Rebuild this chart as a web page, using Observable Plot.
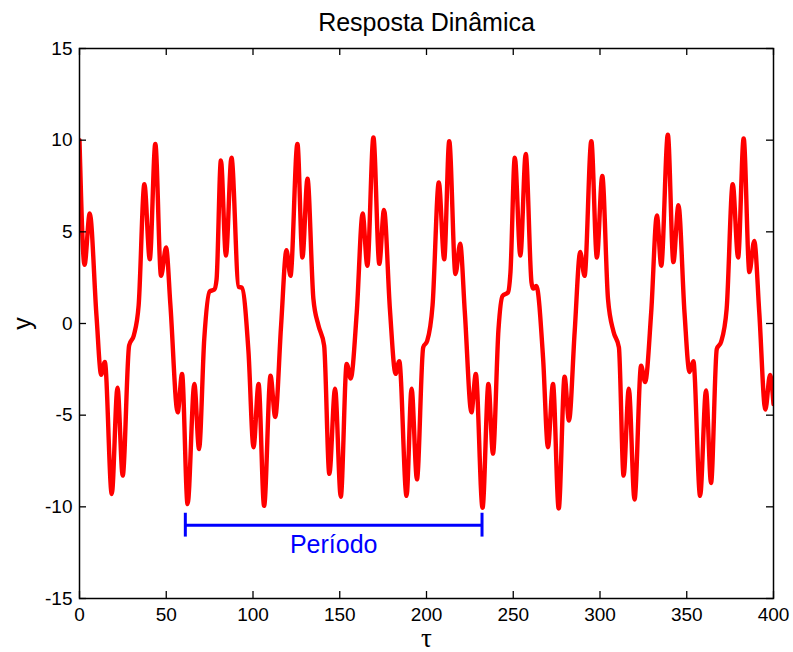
<!DOCTYPE html>
<html>
<head>
<meta charset="utf-8">
<script src="https://cdn.jsdelivr.net/npm/d3@7"></script>
<script src="https://cdn.jsdelivr.net/npm/@observablehq/plot@0.6"></script>
<style>
  body { margin: 0; background: #fff; }
  svg { display: block; }
</style>
</head>
<body>
<div id="chart"></div>
<script>
// Dynamic response y(τ): sampled at its turning points and knees
const tau = [
  0, 2.9, 5.9, 9.8, 12.5, 14.6, 18.6, 21.9, 24.9, 28.6, 31.3, 34.1, 37.4, 40.5, 43.7, 47.0, 49.9,
  52.4, 56.6, 59.1, 62.3, 66.2, 68.9, 71.9, 75.0, 77.7, 79.0, 81.5, 84.4, 87.6, 91.7, 93.6,
  97.4, 100.3, 103.2, 106.4, 110.1, 112.8, 116.2, 119.3, 121.6, 125.6, 128.5, 131.4, 134.8,
  137.7, 141.0, 144.0, 147.3, 150.6, 154.0, 156.3, 159.8, 163.2, 165.9, 169.4, 172.8, 175.5,
  178.9, 182.2, 184.3, 188.5, 191.4, 194.5, 198.1, 200.4, 203.5, 207.1, 210.2, 213.1, 216.7,
  219.4, 222.1, 225.9, 228.4, 232.3, 235.7, 238.3, 241.5, 243.8, 247.0, 248.4, 250.9, 254.1,
  257.2, 260.5, 261.4, 263.3, 267.2, 270.0, 272.9, 276.2, 279.6, 282.1, 285.4, 288.6, 291.1,
  295.0, 298.2, 301.3, 304.6, 307.8, 310.9, 313.6, 316.6, 319.9, 323.7, 326.0, 329.5, 332.8,
  335.3, 339.1, 342.3, 345.2, 348.7, 351.6, 353.8, 357.7, 361.1, 364.0, 367.3, 369.8, 373.0,
  376.5, 379.6, 382.8, 386.1, 388.9, 391.8, 395.3, 398.0, 400
];
const yValues = [
  10.0, 3.2, 6.0, 0.4, -2.8, -2.1, -9.3, -3.5, -8.3, -1.2, -0.65, 1.0, 7.6, 3.5, 9.8, 2.6, 4.15,
  1.0, -4.85, -2.75, -9.85, -3.3, -6.85, -0.85, 1.75, 1.85, 2.4, 8.9, 3.7, 9.05, 2.0, 1.95,
  -1.55, -6.75, -3.3, -9.95, -2.85, -5.1, -0.1, 4.0, 2.6, 9.8, 3.6, 7.9, 1.35,
  -0.1, -1.2, -8.2, -3.55, -9.45, -2.2, -3.0, 0.6, 6.0, 3.15, 10.15, 3.25, 6.2,
  0.8, -2.75, -2.05, -9.4, -3.55, -8.5, -1.3, -0.95, 1.0, 7.7, 3.5, 9.95, 2.7,
  4.35, 0.6, -4.85, -2.75, -10.05, -3.3, -7.1, -0.3, 1.5, 1.7, 2.8, 9.05, 3.7,
  9.25, 2.25, 1.9, 2.05, -1.9, -6.75, -3.3, -10.1, -2.9, -5.3, -0.45, 3.9, 2.6,
  9.95, 3.6, 8.05, 1.35, -0.45, -1.3, -8.3, -3.55, -9.6, -2.3, -3.2, 0.6, 5.9,
  3.15, 10.3, 3.35, 6.45, 0.6, -2.65, -2.05, -9.4, -3.65, -8.7, -1.4, -1.0, 0.8,
  7.6, 3.6, 10.1, 2.8, 4.5, 0.6, -4.7, -2.8, -4.4
];

const xTicks = [0, 50, 100, 150, 200, 250, 300, 350, 400];
const yTicks = [-15, -10, -5, 0, 5, 10, 15];

// One period of the response, marked with a bracket
const periodStart = 61;
const periodEnd = 232;
const periodLevel = -11.0;
const periodLabel = "Período";

const titleText = "Resposta Dinâmica";
const xLabel = "τ";
const yLabel = "y";

const W = 793, H = 652;
const mL = 79, mR = 20, mT = 48, mB = 54;
const innerW = W - mL - mR, innerH = H - mT - mB;
const tickLen = 7;

const points = tau.map((t, i) => ({t, v: yValues[i]}));

const chart = Plot.plot({
  width: W,
  height: H,
  marginLeft: mL,
  marginRight: mR,
  marginTop: mT,
  marginBottom: mB,
  style: {fontFamily: "'Liberation Sans', Arial, Helvetica, sans-serif", fontSize: "19px", color: "black", background: "white"},
  x: {domain: [0, 400]},
  y: {domain: [-15, 15]},
  marks: [
    Plot.line(points, {x: "t", y: "v", stroke: "#ff0000", strokeWidth: 4.4, curve: "monotone-x", clip: true}),
    Plot.ruleY([periodLevel], {x1: periodStart, x2: periodEnd, stroke: "#0000ff", strokeWidth: 3}),
    Plot.ruleX([periodStart, periodEnd], {x: d => d, y1: periodLevel - 0.65, y2: periodLevel + 0.65, stroke: "#0000ff", strokeWidth: 3}),
    Plot.text([periodLabel], {x: (periodStart + periodEnd) / 2, y: periodLevel - 1.1, fill: "#0000ff", fontSize: 25, lineAnchor: "middle"}),
    // inward ticks on all four sides
    Plot.tickX(xTicks, {x: d => d, insetTop: innerH - tickLen, stroke: "black", strokeWidth: 1.3}),
    Plot.tickX(xTicks, {x: d => d, insetBottom: innerH - tickLen, stroke: "black", strokeWidth: 1.3}),
    Plot.tickY(yTicks, {y: d => d, insetRight: innerW - tickLen, stroke: "black", strokeWidth: 1.3}),
    Plot.tickY(yTicks, {y: d => d, insetLeft: innerW - tickLen, stroke: "black", strokeWidth: 1.3}),
    Plot.frame({stroke: "black", strokeWidth: 1.5}),
    Plot.axisX({ticks: xTicks, tickSize: 0, tickPadding: 9, label: null, tickFormat: d => String(d), fontSize: 19}),
    Plot.axisY({ticks: yTicks, tickSize: 0, tickPadding: 7, label: null, tickFormat: d => String(d), fontSize: 19}),
    Plot.text([titleText], {frameAnchor: "top", dy: -26, fontSize: 25, lineAnchor: "middle", textAnchor: "middle"}),
    Plot.text([yLabel], {frameAnchor: "left", dx: -57, rotate: -90, fontSize: 25, lineAnchor: "middle", textAnchor: "middle"}),
    Plot.text([xLabel], {frameAnchor: "bottom", dy: 40, fontSize: 27, lineAnchor: "middle", textAnchor: "middle", fontFamily: "'Liberation Serif', 'DejaVu Serif', serif"})
  ]
});

document.getElementById("chart").appendChild(chart);
</script>
</body>
</html>
